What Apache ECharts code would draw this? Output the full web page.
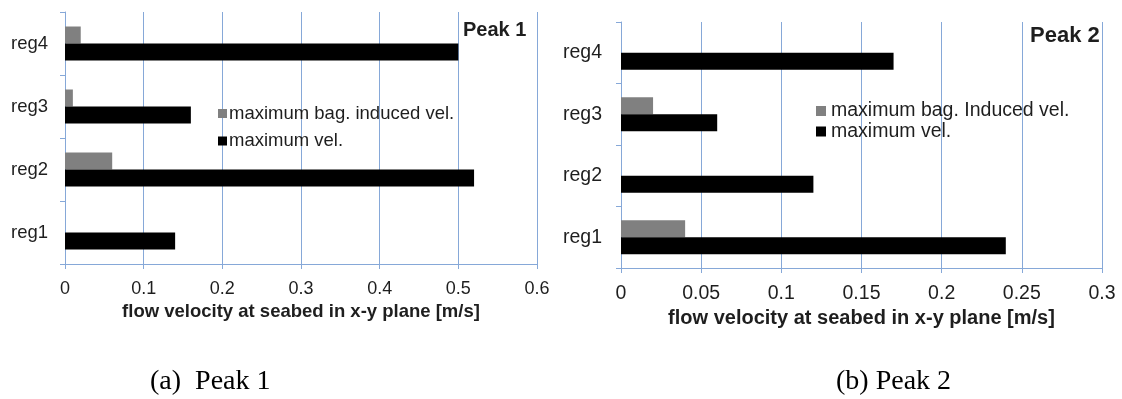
<!DOCTYPE html>
<html>
<head>
<meta charset="utf-8">
<script src="https://cdn.jsdelivr.net/npm/echarts@6/dist/echarts.min.js"></script>
<style>
  html, body { margin: 0; padding: 0; background: #ffffff; }
  #chart { width: 1122px; height: 399px; }
</style>
</head>
<body>
<div id="chart"></div>
<script>
// Regions along the seabed (bottom to top on the category axis)
const categories = ['reg1', 'reg2', 'reg3', 'reg4'];

// Peak 1: flow velocity at seabed [m/s]
const peak1BagInduced = [0, 0.06, 0.01, 0.02];
const peak1Maximum = [0.14, 0.52, 0.16, 0.5];

// Peak 2: flow velocity at seabed [m/s]
const peak2BagInduced = [0.04, 0, 0.02, 0];
const peak2Maximum = [0.24, 0.12, 0.06, 0.17];

// Value axis ranges
const peak1Axis = { min: 0, max: 0.6, interval: 0.1 };
const peak2Axis = { min: 0, max: 0.3, interval: 0.05 };

// Series and axis texts
const bagNamePeak1 = 'maximum bag. induced vel.';
const bagNamePeak2 = 'maximum bag. Induced vel.';
const maxName = 'maximum vel.';
const axisTitle = 'flow velocity at seabed in x-y plane [m/s]';
const panelTitles = ['Peak 1', 'Peak 2'];
const captions = ['(a)  Peak 1', '(b) Peak 2'];

const SANS = '"Liberation Sans", Arial, sans-serif';
const SERIF = '"Liberation Serif", "Times New Roman", serif';
const AXIS_BLUE = '#86a8d8';
const TEXT = '#1e1e1e';
const GREY_BAR = '#808080';
const BLACK_BAR = '#000000';

function valueAxis(gridIndex, range, fontSize, nameGap) {
  return {
    type: 'value',
    gridIndex: gridIndex,
    min: range.min,
    max: range.max,
    interval: range.interval,
    name: axisTitle,
    nameLocation: 'middle',
    nameGap: nameGap,
    nameTextStyle: { fontFamily: SANS, fontWeight: 'bold', fontSize: fontSize + 0.5, color: TEXT },
    axisLine: { show: true, lineStyle: { color: AXIS_BLUE, width: 1 } },
    axisTick: { show: true, length: 5, lineStyle: { color: AXIS_BLUE } },
    axisLabel: { fontFamily: SANS, fontSize: fontSize, color: TEXT, margin: 16 },
    splitLine: { show: true, lineStyle: { color: [AXIS_BLUE], width: 1, type: 'solid' } }
  };
}

function categoryAxis(gridIndex, fontSize, margin) {
  return {
    type: 'category',
    gridIndex: gridIndex,
    data: categories,
    axisLine: { show: true, lineStyle: { color: AXIS_BLUE, width: 1 } },
    axisTick: { show: true, length: 5, lineStyle: { color: AXIS_BLUE } },
    axisLabel: { fontFamily: SANS, fontSize: fontSize, color: TEXT, margin: margin },
    splitLine: { show: false }
  };
}

function bar(name, data, color, axisIndex) {
  return {
    name: name,
    type: 'bar',
    xAxisIndex: axisIndex,
    yAxisIndex: axisIndex,
    data: data,
    barWidth: 17,
    barGap: '0%',
    itemStyle: { color: color },
    emphasis: { disabled: true },
    animation: false
  };
}

const option = {
  backgroundColor: '#ffffff',
  animation: false,
  grid: [
    { left: 65, right: 585, top: 12, bottom: 135 },
    { left: 621, right: 20, top: 22, bottom: 131 }
  ],
  xAxis: [
    valueAxis(0, peak1Axis, 18, 37),
    valueAxis(1, peak2Axis, 19.5, 38)
  ],
  yAxis: [
    categoryAxis(0, 18.5, 17),
    categoryAxis(1, 19.5, 19)
  ],
  legend: [
    {
      data: [bagNamePeak1, maxName],
      orient: 'vertical',
      left: 218, top: 104,
      itemWidth: 9, itemHeight: 9, itemGap: 8.5,
      padding: 0,
      icon: 'rect',
      selectedMode: false,
      textStyle: { fontFamily: SANS, fontSize: 18.5, color: TEXT, padding: [0, 0, 0, -3] }
    },
    {
      data: [bagNamePeak2, maxName],
      orient: 'vertical',
      left: 816, top: 101,
      itemWidth: 10, itemHeight: 10, itemGap: 0.5,
      padding: 0,
      icon: 'rect',
      selectedMode: false,
      textStyle: { fontFamily: SANS, fontSize: 19.5, color: TEXT }
    }
  ],
  title: [
    { text: panelTitles[0], left: 463, top: 20, padding: 0,
      textStyle: { fontFamily: SANS, fontWeight: 'bold', fontSize: 20, color: TEXT } },
    { text: panelTitles[1], left: 1030, top: 25, padding: 0,
      textStyle: { fontFamily: SANS, fontWeight: 'bold', fontSize: 22, color: TEXT } },
    { text: captions[0], left: 150, top: 368, padding: 0,
      textStyle: { fontFamily: SERIF, fontWeight: 'normal', fontSize: 28, color: '#000000' } },
    { text: captions[1], left: 836, top: 368, padding: 0,
      textStyle: { fontFamily: SERIF, fontWeight: 'normal', fontSize: 28, color: '#000000' } }
  ],
  series: [
    bar(bagNamePeak1, peak1BagInduced, GREY_BAR, 0),
    bar(maxName, peak1Maximum, BLACK_BAR, 0),
    bar(bagNamePeak2, peak2BagInduced, GREY_BAR, 1),
    bar(maxName, peak2Maximum, BLACK_BAR, 1)
  ]
};

const chart = echarts.init(document.getElementById('chart'), null, { renderer: 'canvas' });
chart.setOption(option);
</script>
</body>
</html>
